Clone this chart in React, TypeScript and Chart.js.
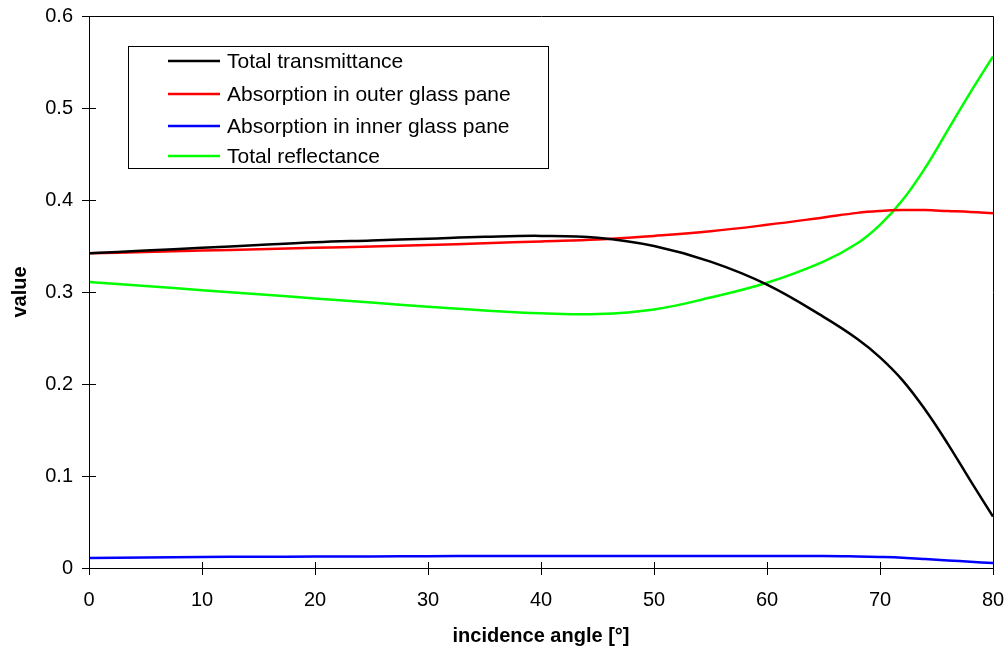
import React, { useEffect, useRef } from "react";
import { Chart, registerables } from "chart.js";

Chart.register(...registerables);

const angles = [0, 5, 10, 15, 20, 25, 30, 35, 40, 45, 50, 55, 60, 65, 68, 70, 72, 74, 76, 78, 80];
const transmittance = [0.342, 0.345, 0.348, 0.351, 0.354, 0.356, 0.358, 0.360, 0.361, 0.359, 0.350, 0.333, 0.308, 0.273, 0.249, 0.229, 0.204, 0.172, 0.135, 0.095, 0.056];
const absOuter = [0.342, 0.3435, 0.345, 0.3465, 0.348, 0.3495, 0.351, 0.353, 0.355, 0.357, 0.361, 0.366, 0.373, 0.381, 0.386, 0.388, 0.389, 0.389, 0.388, 0.387, 0.3855];
const absInner = [0.011, 0.0115, 0.012, 0.0122, 0.0124, 0.0126, 0.0128, 0.013, 0.013, 0.013, 0.013, 0.013, 0.013, 0.013, 0.0125, 0.012, 0.0112, 0.0098, 0.0082, 0.0068, 0.0054];
const reflectance = [0.311, 0.3065, 0.302, 0.2975, 0.293, 0.2885, 0.284, 0.280, 0.277, 0.276, 0.281, 0.294, 0.310, 0.333, 0.353, 0.373, 0.400, 0.435, 0.476, 0.517, 0.556];

const seriesNames = ["Total transmittance", "Absorption in outer glass pane", "Absorption in inner glass pane", "Total reflectance"];
const seriesColors = ["#000000", "#ff0000", "#0000ff", "#00ff00"];
const xTicks = [0, 10, 20, 30, 40, 50, 60, 70, 80];
const yTicks = [0, 0.1, 0.2, 0.3, 0.4, 0.5, 0.6];

const FONT = "'Liberation Sans', Arial, sans-serif";

const framePlugin = {
  id: "frame",
  afterDatasetsDraw(chart: any) {
    const { ctx, chartArea, scales } = chart;
    ctx.save();
    ctx.strokeStyle = "#000";
    ctx.lineWidth = 1;
    ctx.beginPath();
    ctx.moveTo(chartArea.left + 0.5, chartArea.bottom + 0.5);
    ctx.lineTo(chartArea.left + 0.5, chartArea.top + 0.5);
    ctx.lineTo(chartArea.right + 0.5, chartArea.top + 0.5);
    ctx.lineTo(chartArea.right + 0.5, chartArea.bottom + 0.5);
    ctx.lineTo(chartArea.left + 0.5, chartArea.bottom + 0.5);
    ctx.stroke();
    ctx.beginPath();
    for (const v of xTicks) {
      const x = Math.round(scales.x.getPixelForValue(v)) + 0.5;
      ctx.moveTo(x, chartArea.bottom - 6);
      ctx.lineTo(x, chartArea.bottom + 7);
    }
    for (const v of yTicks) {
      const y = Math.round(scales.y.getPixelForValue(v)) + 0.5;
      ctx.moveTo(chartArea.left - 7, y);
      ctx.lineTo(chartArea.left + 7, y);
    }
    ctx.stroke();

    const bx = 128.5, by = 46.5, bw = 420, bh = 122;
    ctx.fillStyle = "#fff";
    ctx.fillRect(bx, by, bw, bh);
    ctx.strokeStyle = "#000";
    ctx.strokeRect(bx, by, bw, bh);
    ctx.font = `21px ${FONT}`;
    ctx.textBaseline = "middle";
    ctx.textAlign = "left";
    const rows = [61, 94, 126, 156];
    chart.data.datasets.forEach((ds: any, i: number) => {
      ctx.strokeStyle = ds.borderColor;
      ctx.lineWidth = 2.5;
      ctx.beginPath();
      ctx.moveTo(168, rows[i]);
      ctx.lineTo(220, rows[i]);
      ctx.stroke();
      ctx.fillStyle = "#000";
      ctx.fillText(ds.label, 227, rows[i] + 1);
    });
    ctx.restore();
  },
};

export default function App() {
  const ref = useRef<HTMLCanvasElement>(null);
  useEffect(() => {
    if (!ref.current) return;
    const datasets = [transmittance, absOuter, absInner, reflectance].map((arr, i) => ({
      label: seriesNames[i],
      data: angles.map((a, j) => ({ x: a, y: arr[j] })),
      borderColor: seriesColors[i],
      backgroundColor: seriesColors[i],
      borderWidth: 2.5,
      pointRadius: 0,
      tension: 0.4,
      fill: false,
    }));
    const chart = new Chart(ref.current, {
      type: "line",
      data: { datasets },
      plugins: [framePlugin],
      options: {
        animation: false,
        responsive: false,
        maintainAspectRatio: false,
        layout: { padding: { top: 16, right: 15, left: 0, bottom: 0 } },
        plugins: { legend: { display: false }, tooltip: { enabled: false } },
        scales: {
          x: {
            type: "linear",
            min: 0,
            max: 80,
            afterFit(s: any) { s.height = 82; s.paddingLeft = 0; s.paddingRight = 0; },
            afterBuildTicks(s: any) { s.ticks = xTicks.map((v) => ({ value: v })); },
            grid: { display: false, drawTicks: false },
            border: { display: false },
            ticks: { color: "#000", font: { family: FONT, size: 20 }, padding: 20, maxRotation: 0, autoSkip: false },
            title: { display: true, text: "incidence angle [°]", color: "#000", font: { family: FONT, size: 20, weight: "bold" }, padding: { top: 0, bottom: 2 } },
          },
          y: {
            type: "linear",
            min: 0,
            max: 0.6,
            afterFit(s: any) { s.width = 89; s.paddingTop = 0; s.paddingBottom = 0; },
            afterBuildTicks(s: any) { s.ticks = yTicks.map((v) => ({ value: v })); },
            grid: { display: false, drawTicks: false },
            border: { display: false },
            ticks: { color: "#000", font: { family: FONT, size: 20 }, padding: 16, autoSkip: false, callback: (v: any) => String(Number(v.toFixed(1))) },
            title: { display: true, text: "value", color: "#000", font: { family: FONT, size: 20, weight: "bold" }, padding: { top: 8, bottom: 0 } },
          },
        },
      } as any,
    });
    return () => chart.destroy();
  }, []);
  return (
    <div style={{ position: "absolute", left: 0, top: 0, width: 1008, height: 650, background: "#fff" }}>
      <canvas ref={ref} width={1008} height={650} style={{ width: 1008, height: 650, display: "block" }} />
    </div>
  );
}
